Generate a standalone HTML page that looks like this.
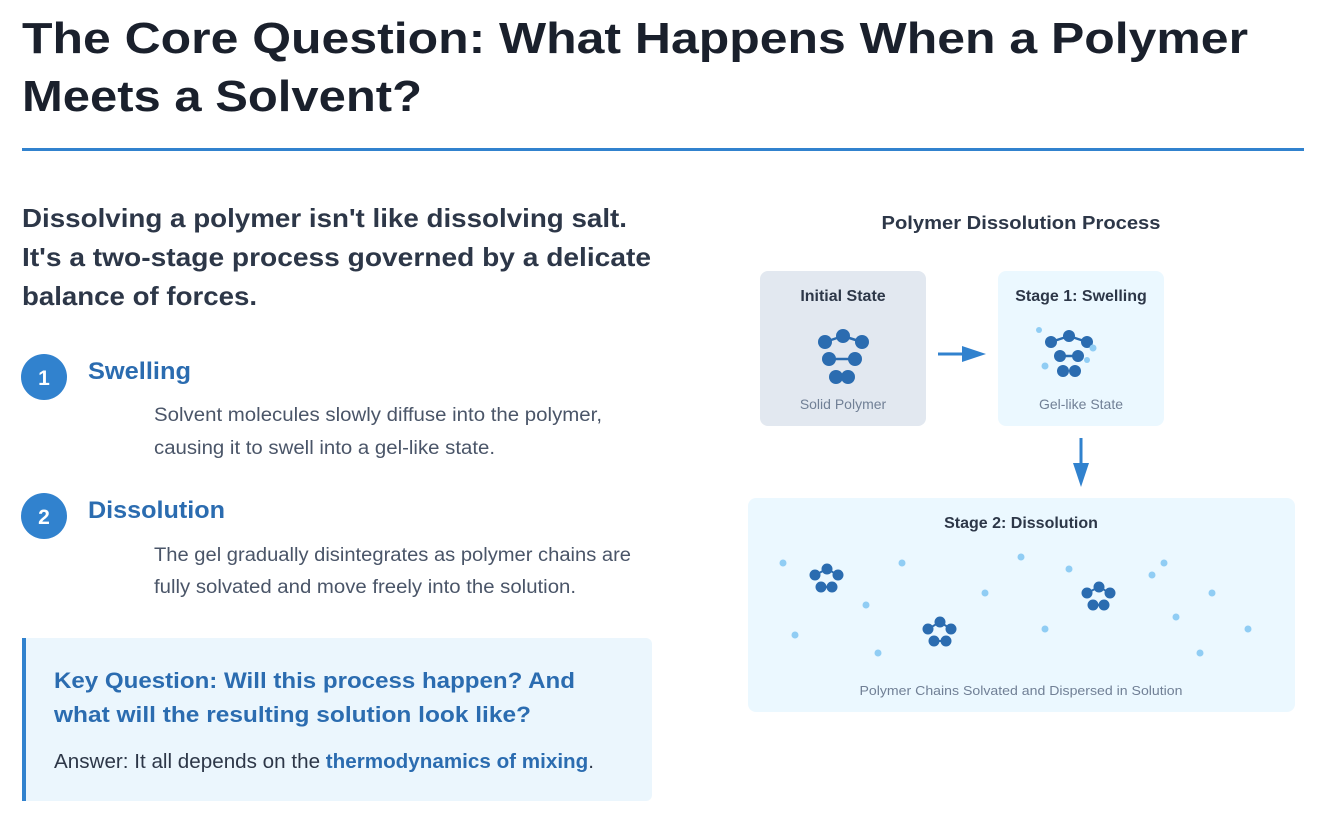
<!DOCTYPE html>
<html><head><meta charset="utf-8"><style>
html,body{margin:0;padding:0;background:#fff;width:1324px;height:821px;overflow:hidden}
svg{display:block}
</style></head><body>
<svg width="1324" height="821" viewBox="0 0 1324 821" xmlns="http://www.w3.org/2000/svg" font-family="Liberation Sans, sans-serif">
<text x="22" y="53" font-size="44" font-weight="bold" fill="#1a202c" textLength="1226" lengthAdjust="spacingAndGlyphs">The Core Question: What Happens When a Polymer</text>
<text x="22" y="111" font-size="44" font-weight="bold" fill="#1a202c" textLength="400" lengthAdjust="spacingAndGlyphs">Meets a Solvent?</text>
<rect x="22" y="148" width="1282" height="3" fill="#3182ce"/>

<g font-size="26" font-weight="bold" fill="#2d3748">
<text x="22" y="227" textLength="605" lengthAdjust="spacingAndGlyphs">Dissolving a polymer isn't like dissolving salt.</text>
<text x="22" y="266" textLength="629" lengthAdjust="spacingAndGlyphs">It's a two-stage process governed by a delicate</text>
<text x="22" y="305" textLength="235" lengthAdjust="spacingAndGlyphs">balance of forces.</text>
</g>

<circle cx="44" cy="377" r="23" fill="#3182ce"/>
<text x="44" y="385" font-size="21" font-weight="bold" fill="#fff" text-anchor="middle">1</text>
<text x="88" y="379" font-size="24" font-weight="bold" fill="#2b6cb0" textLength="103" lengthAdjust="spacingAndGlyphs">Swelling</text>
<text x="154" y="421" font-size="19" fill="#4a5568" textLength="448" lengthAdjust="spacingAndGlyphs">Solvent molecules slowly diffuse into the polymer,</text>
<text x="154" y="454" font-size="19" fill="#4a5568" textLength="341" lengthAdjust="spacingAndGlyphs">causing it to swell into a gel-like state.</text>

<circle cx="44" cy="516" r="23" fill="#3182ce"/>
<text x="44" y="524" font-size="21" font-weight="bold" fill="#fff" text-anchor="middle">2</text>
<text x="88" y="518" font-size="24" font-weight="bold" fill="#2b6cb0" textLength="137" lengthAdjust="spacingAndGlyphs">Dissolution</text>
<text x="154" y="561" font-size="19" fill="#4a5568" textLength="477" lengthAdjust="spacingAndGlyphs">The gel gradually disintegrates as polymer chains are</text>
<text x="154" y="593" font-size="19" fill="#4a5568" textLength="422" lengthAdjust="spacingAndGlyphs">fully solvated and move freely into the solution.</text>

<rect x="22" y="638" width="630" height="163" rx="6" fill="#ebf6fd"/>
<rect x="22" y="638" width="4" height="163" fill="#3182ce"/>
<text x="54" y="688" font-size="22" font-weight="bold" fill="#2b6cb0" textLength="521" lengthAdjust="spacingAndGlyphs">Key Question: Will this process happen? And</text>
<text x="54" y="722" font-size="22" font-weight="bold" fill="#2b6cb0" textLength="477" lengthAdjust="spacingAndGlyphs">what will the resulting solution look like?</text>
<text x="54" y="768" font-size="20" fill="#2d3748" textLength="540" lengthAdjust="spacingAndGlyphs">Answer: It all depends on the <tspan fill="#2b6cb0" font-weight="bold">thermodynamics of mixing</tspan>.</text>

<text x="1021" y="229" font-size="18" font-weight="bold" fill="#2d3748" text-anchor="middle" textLength="279" lengthAdjust="spacingAndGlyphs">Polymer Dissolution Process</text>

<rect x="760" y="271" width="166" height="155" rx="8" fill="#e2e8f0"/>
<text x="843" y="301" font-size="16" font-weight="bold" fill="#2d3748" text-anchor="middle">Initial State</text>
<g stroke="#2b6cb0" stroke-width="2.5"><line x1="825" y1="342" x2="843" y2="336"/><line x1="843" y1="336" x2="862" y2="342"/><line x1="826" y1="359" x2="855" y2="359"/></g>
<g fill="#2b6cb0"><circle cx="825" cy="342" r="7"/><circle cx="843" cy="336" r="7"/><circle cx="862" cy="342" r="7"/><circle cx="829" cy="359" r="7"/><circle cx="855" cy="359" r="7"/><circle cx="836" cy="377" r="7"/><circle cx="848" cy="377" r="7"/></g>
<text x="843" y="409" font-size="14" fill="#718096" text-anchor="middle">Solid Polymer</text>

<line x1="938" y1="354" x2="965" y2="354" stroke="#3182ce" stroke-width="3"/>
<polygon points="962,346 986,354 962,362" fill="#3182ce"/>

<rect x="998" y="271" width="166" height="155" rx="8" fill="#ebf8ff"/>
<text x="1081" y="301" font-size="16" font-weight="bold" fill="#2d3748" text-anchor="middle">Stage 1: Swelling</text>
<g stroke="#2b6cb0" stroke-width="2.5"><line x1="1051" y1="342" x2="1069" y2="336"/><line x1="1069" y1="336" x2="1087" y2="342"/><line x1="1060" y1="356" x2="1078" y2="356"/></g>
<g fill="#2b6cb0"><circle cx="1051" cy="342" r="6"/><circle cx="1069" cy="336" r="6"/><circle cx="1087" cy="342" r="6"/><circle cx="1060" cy="356" r="6"/><circle cx="1078" cy="356" r="6"/><circle cx="1063" cy="371" r="6"/><circle cx="1075" cy="371" r="6"/></g>
<g fill="#90cdf4"><circle cx="1039" cy="330" r="3"/><circle cx="1093" cy="348" r="3.5"/><circle cx="1045" cy="366" r="3.5"/><circle cx="1087" cy="360" r="3"/></g>
<text x="1081" y="409" font-size="14" fill="#718096" text-anchor="middle">Gel-like State</text>

<line x1="1081" y1="438" x2="1081" y2="466" stroke="#3182ce" stroke-width="3"/>
<polygon points="1073,463 1081,487 1089,463" fill="#3182ce"/>

<rect x="748" y="498" width="547" height="214" rx="8" fill="#ebf8ff"/>
<text x="1021" y="528" font-size="16" font-weight="bold" fill="#2d3748" text-anchor="middle">Stage 2: Dissolution</text>
<g fill="#90cdf4">
<circle cx="783" cy="563" r="3.5"/><circle cx="795" cy="635" r="3.5"/><circle cx="866" cy="605" r="3.5"/><circle cx="878" cy="653" r="3.5"/><circle cx="902" cy="563" r="3.5"/><circle cx="985" cy="593" r="3.5"/><circle cx="1021" cy="557" r="3.5"/><circle cx="1045" cy="629" r="3.5"/><circle cx="1069" cy="569" r="3.5"/><circle cx="1152" cy="575" r="3.5"/><circle cx="1164" cy="563" r="3.5"/><circle cx="1176" cy="617" r="3.5"/><circle cx="1200" cy="653" r="3.5"/><circle cx="1212" cy="593" r="3.5"/><circle cx="1248" cy="629" r="3.5"/>
</g>
<g fill="#2b6cb0" stroke="#2b6cb0" stroke-width="2">
<g transform="translate(827,569)"><polyline points="-12,6 0,0 11,6" fill="none"/><line x1="-6" y1="18" x2="5" y2="18"/><circle cx="-12" cy="6" r="4.5"/><circle cx="0" cy="0" r="4.5"/><circle cx="11" cy="6" r="4.5"/><circle cx="-6" cy="18" r="4.5"/><circle cx="5" cy="18" r="4.5"/></g>
<g transform="translate(940,622)"><polyline points="-12,7 0,0 11,7" fill="none"/><line x1="-6" y1="19" x2="6" y2="19"/><circle cx="-12" cy="7" r="4.5"/><circle cx="0" cy="0" r="4.5"/><circle cx="11" cy="7" r="4.5"/><circle cx="-6" cy="19" r="4.5"/><circle cx="6" cy="19" r="4.5"/></g>
<g transform="translate(1099,587)"><polyline points="-12,6 0,0 11,6" fill="none"/><line x1="-6" y1="18" x2="5" y2="18"/><circle cx="-12" cy="6" r="4.5"/><circle cx="0" cy="0" r="4.5"/><circle cx="11" cy="6" r="4.5"/><circle cx="-6" cy="18" r="4.5"/><circle cx="5" cy="18" r="4.5"/></g>
</g>
<text x="1021" y="695" font-size="13" fill="#718096" text-anchor="middle" textLength="323" lengthAdjust="spacingAndGlyphs">Polymer Chains Solvated and Dispersed in Solution</text>
</svg>
</body></html>
